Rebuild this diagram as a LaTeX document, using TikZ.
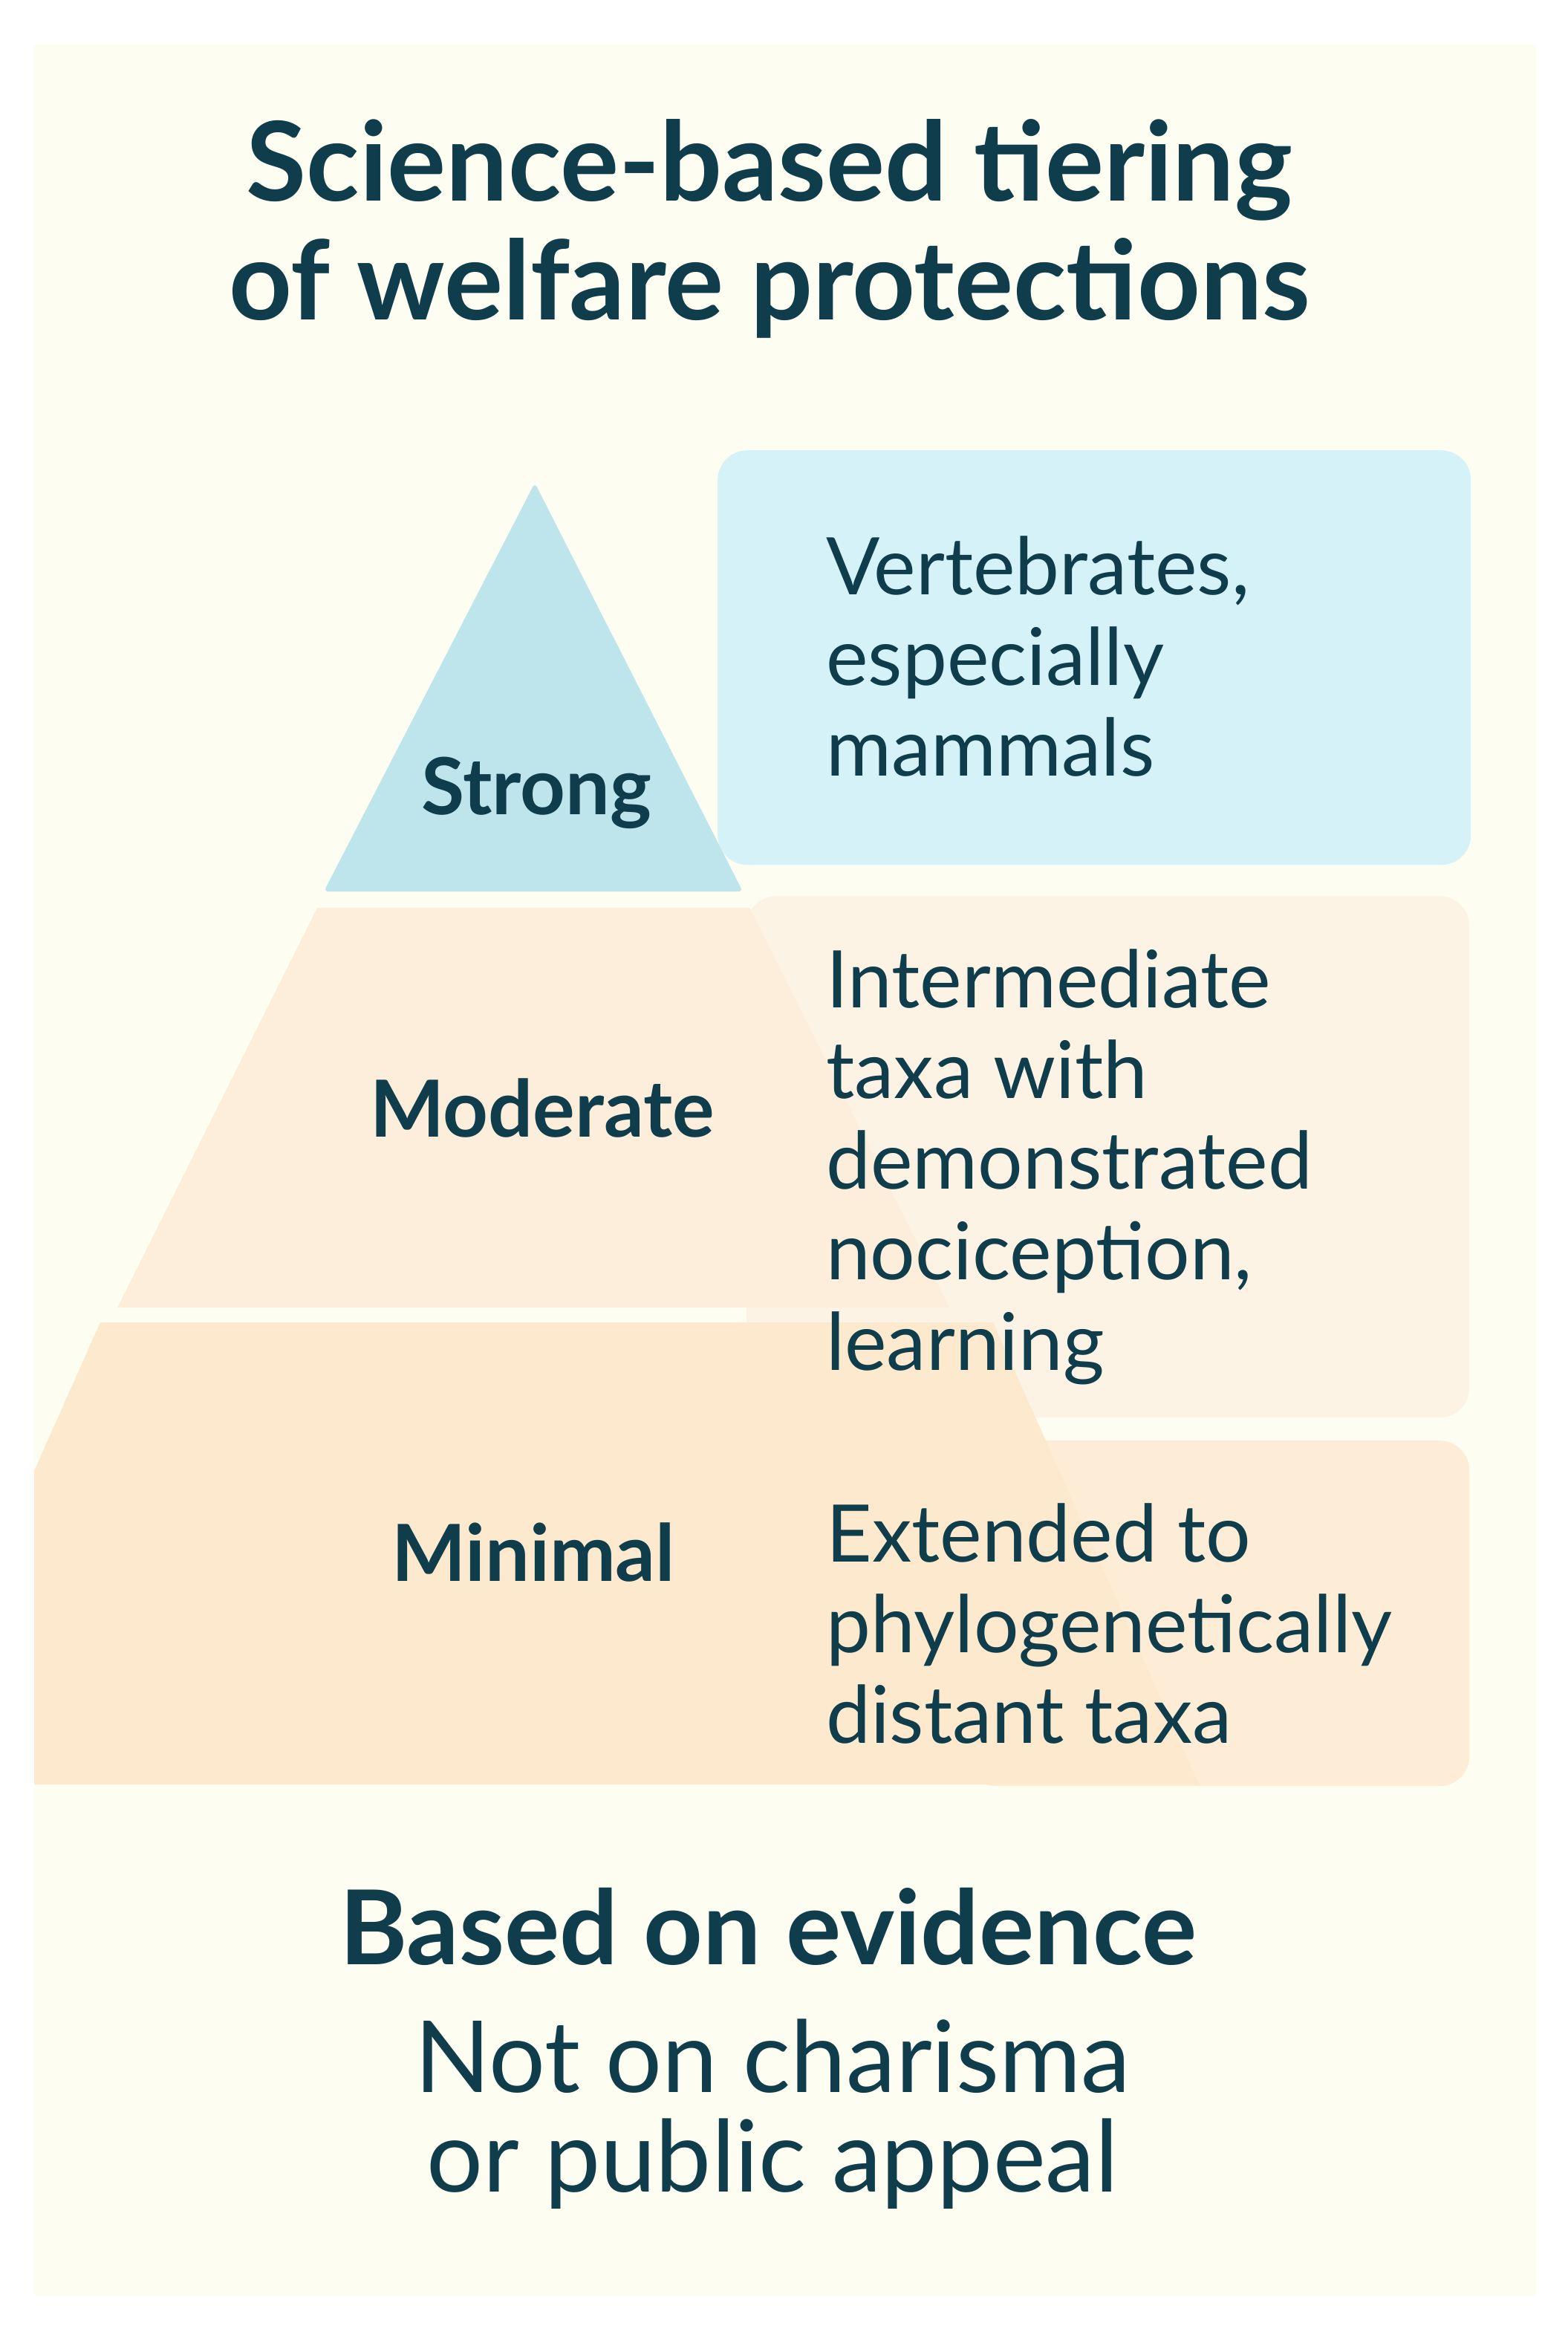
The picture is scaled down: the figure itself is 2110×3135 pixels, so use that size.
\documentclass[tikz,border=0pt]{standalone}
\usepackage{fontspec}
\setmainfont{Lato}
\definecolor{panel}{HTML}{FEFDF1}
\definecolor{ink}{HTML}{0F3D4C}
\definecolor{tri}{HTML}{BEE5EC}
\definecolor{bluebox}{HTML}{D4F2F7}
\definecolor{modpyr}{HTML}{FCEEDA}
\definecolor{modbox}{HTML}{FDF3E5}
\definecolor{minpyr}{HTML}{FDEACE}
\definecolor{minbox}{HTML}{FDEDD6}
\tikzset{
  tierbox/.style={rounded corners=40pt, inner sep=0pt, anchor=north west},
  desc/.style={text=ink, inner sep=0pt, anchor=base west, align=left, font=\fontsize{107pt}{122pt}\selectfont},
  tierlabel/.style={text=ink, inner sep=0pt, anchor=base, font=\fontsize{106pt}{120pt}\selectfont\bfseries},
}
\begin{document}
\begin{tikzpicture}[x=1pt,y=-1pt]
\useasboundingbox (0,0) rectangle (2110,3135);
\fill[white] (0,0) rectangle (2110,3135);
\fill[panel] (46,60) rectangle (2068,3090);

% title (base anchor = last line)
\node[text=ink, inner sep=0pt, anchor=base, align=center, font=\fontsize{148pt}{160pt}\selectfont\bfseries] (title) at (1036,430) {Science-based tiering\\of welfare protections};

% boxes
\node[tierbox, fill=bluebox, minimum width=1014pt, minimum height=558pt] (boxS) at (966,606) {};
\node[tierbox, fill=modbox, minimum width=973pt, minimum height=702pt] (boxM) at (1005,1206) {};
\node[tierbox, fill=minbox, minimum width=678pt, minimum height=465pt] (boxN) at (1300,1939) {};

% pyramid
\begin{scope}
\clip (46,60) rectangle (2068,3090);
\fill[tri, rounded corners=6pt] (720,650) -- (1000,1200) -- (436,1200) -- cycle;
\fill[modpyr] (427,1222) -- (1009,1222) -- (1278,1760) -- (158,1760) -- cycle;
\fill[minpyr] (135,1780) -- (1337,1780) -- (1614,2402) -- (-142,2402) -- cycle;
\end{scope}

% tier labels
\node[tierlabel] (lS) at (722,1096) {Strong};
\node[tierlabel] (lM) at (730,1530) {Moderate};
\node[tierlabel] (lN) at (718,2128) {Minimal};

% descriptions (base anchor = last line)
\node[desc] (dS) at (1112,1044) {Vertebrates,\\especially\\mammals};
\node[desc] (dM) at (1112,1844) {Intermediate\\taxa with\\demonstrated\\nociception,\\learning};
\node[desc] (dN) at (1112,2346) {Extended to\\phylogenetically\\distant taxa};

% footer
\node[text=ink, inner sep=0pt, anchor=base, font=\fontsize{139pt}{150pt}\selectfont\bfseries] (f1) at (1034,2644) {Based on evidence};
\node[text=ink, inner sep=0pt, anchor=base, align=center, font=\fontsize{134pt}{134pt}\selectfont] (f2) at (1040,2950) {Not on charisma\\or public appeal};
\end{tikzpicture}
\end{document}
